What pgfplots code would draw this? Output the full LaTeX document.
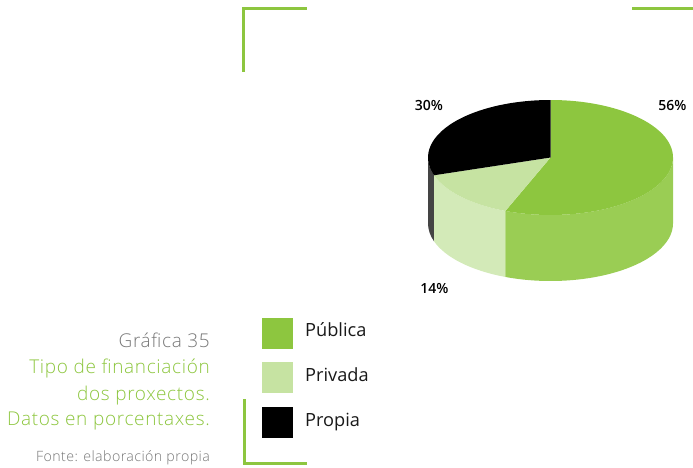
\documentclass[border=0pt]{standalone}
\usepackage{pgfplots}
\pgfplotsset{compat=1.18}
\usepackage{pgfplotstable}
\usepackage{fontspec}
\setmainfont{Open Sans}
\IfFontExistsTF{Open Sans Light}%
  {\newfontfamily\lightfont{Open Sans Light}}%
  {\newfontfamily\lightfont{Open Sans}}
\IfFontExistsTF{Open Sans Semibold}%
  {\newfontfamily\semifont{Open Sans Semibold}}%
  {\newfontfamily\semifont{Open Sans}}

\definecolor{pubtop}{HTML}{8DC63F}
\definecolor{pubside}{HTML}{9ACD54}
\definecolor{pritop}{HTML}{C6E3A2}
\definecolor{priside}{HTML}{D3EAB8}
\definecolor{protop}{HTML}{000000}
\definecolor{proside}{HTML}{444444}
\definecolor{frame}{HTML}{8DC63F}
\definecolor{titlegray}{HTML}{777777}
\definecolor{titlegreen}{HTML}{8DC63F}

% Shares of each funding type (percent)
\pgfplotstableread{
cat value
Publica 56
Privada 14
Propia 30
}\shares

\pgfplotstablegetelem{0}{value}\of\shares \let\vA\pgfplotsretval
\pgfplotstablegetelem{1}{value}\of\shares \let\vB\pgfplotsretval
\pgfplotstablegetelem{2}{value}\of\shares \let\vC\pgfplotsretval
% slice boundaries: start at 12 o'clock, run clockwise
\pgfmathsetmacro\aA{90}
\pgfmathsetmacro\aB{\aA-3.6*\vA}
\pgfmathsetmacro\aC{\aB-3.6*\vB}
\pgfmathsetmacro\aD{\aC-3.6*\vC}
% parts of each slice's rim that face the viewer (angles -180..0)
\pgfmathsetmacro\sAlo{max(\aB,-180)}\pgfmathsetmacro\sAhi{min(\aA,0)}
\pgfmathsetmacro\sBlo{max(\aC,-180)}\pgfmathsetmacro\sBhi{min(\aB,0)}
\pgfmathsetmacro\sClo{max(\aD,-180)}\pgfmathsetmacro\sChi{min(\aC,0)}

\begin{document}%
\begin{tikzpicture}
\tikzset{ell/.style={x radius=122.5pt, y radius=57.5pt},
  captxt/.style={anchor=base east, inner sep=0pt, font=\fontsize{19}{20}\lightfont\addfontfeatures{LetterSpace=3.5}\selectfont},
  legtxt/.style={anchor=base west, inner sep=0pt, font=\fontsize{18.2}{20}\selectfont, text=black!90},
  pcttxt/.style={font=\fontsize{14}{16}\semifont\selectfont}}
\begin{axis}[
  x=1pt, y=1pt,
  xmin=0, xmax=693, ymin=0, ymax=467,
  hide axis, clip=false,
]
\coordinate (BL) at (axis cs:0,0);
\coordinate (TR) at (axis cs:693,467);
\coordinate (C) at (axis cs:550.5,309.5);
% rim
\fill[proside] (C) ++(\sClo:122.5pt and 57.5pt) arc[ell, start angle=\sClo, end angle=\sChi]
   -- ++(0,-66pt) arc[ell, start angle=\sChi, end angle=\sClo] -- cycle;
\fill[priside] (C) ++(\sBlo:122.5pt and 57.5pt) arc[ell, start angle=\sBlo, end angle=\sBhi]
   -- ++(0,-66pt) arc[ell, start angle=\sBhi, end angle=\sBlo] -- cycle;
\fill[pubside] (C) ++(\sAlo:122.5pt and 57.5pt) arc[ell, start angle=\sAlo, end angle=\sAhi]
   -- ++(0,-66pt) arc[ell, start angle=\sAhi, end angle=\sAlo] -- cycle;
% top faces
\fill[pubtop] (C) -- ++(\aA:122.5pt and 57.5pt) arc[ell, start angle=\aA, end angle=\aB] -- cycle;
\fill[pritop] (C) -- ++(\aB:122.5pt and 57.5pt) arc[ell, start angle=\aB, end angle=\aC] -- cycle;
\fill[protop] (C) -- ++(\aC:122.5pt and 57.5pt) arc[ell, start angle=\aC, end angle=\aD] -- cycle;
% value labels
\node[pcttxt] at (axis cs:672.5,362) {\vA\%};
\node[pcttxt] at (axis cs:429,362) {\vC\%};
\node[pcttxt] at (axis cs:434.5,179) {\vB\%};
% legend
\fill[pubtop] (axis cs:262,118) rectangle (axis cs:293,149);
\fill[pritop] (axis cs:262,74) rectangle (axis cs:293,105);
\fill[protop] (axis cs:262,29) rectangle (axis cs:293,60);
\node[legtxt] at (axis cs:305,131) {Pública};
\node[legtxt] at (axis cs:305,86) {Privada};
\node[legtxt] at (axis cs:305,41) {Propia};
% caption
\node[captxt, text=titlegray] at (axis cs:210,120) {Gráfica 35};
\node[captxt, text=titlegreen] at (axis cs:210,94) {Tipo de financiación};
\node[captxt, text=titlegreen] at (axis cs:210,67) {dos proxectos.};
\node[captxt, text=titlegreen] at (axis cs:210,42) {Datos en porcentaxes.};
\node[anchor=base east, inner sep=0pt, font=\fontsize{14.2}{16}\lightfont\addfontfeatures{LetterSpace=3}\selectfont, text=titlegray] at (axis cs:210,6) {Fonte: elaboración propia};
% frame corners
\draw[frame, line width=3pt] (axis cs:243.5,395) -- (axis cs:243.5,458) -- (axis cs:307,458);
\draw[frame, line width=3pt] (axis cs:632,458) -- (axis cs:693,458);
\draw[frame, line width=3pt] (axis cs:244,68) -- (axis cs:244,4) -- (axis cs:307,4);
\end{axis}
\pgfresetboundingbox
\useasboundingbox (BL) rectangle (TR);
\end{tikzpicture}%
\end{document}
